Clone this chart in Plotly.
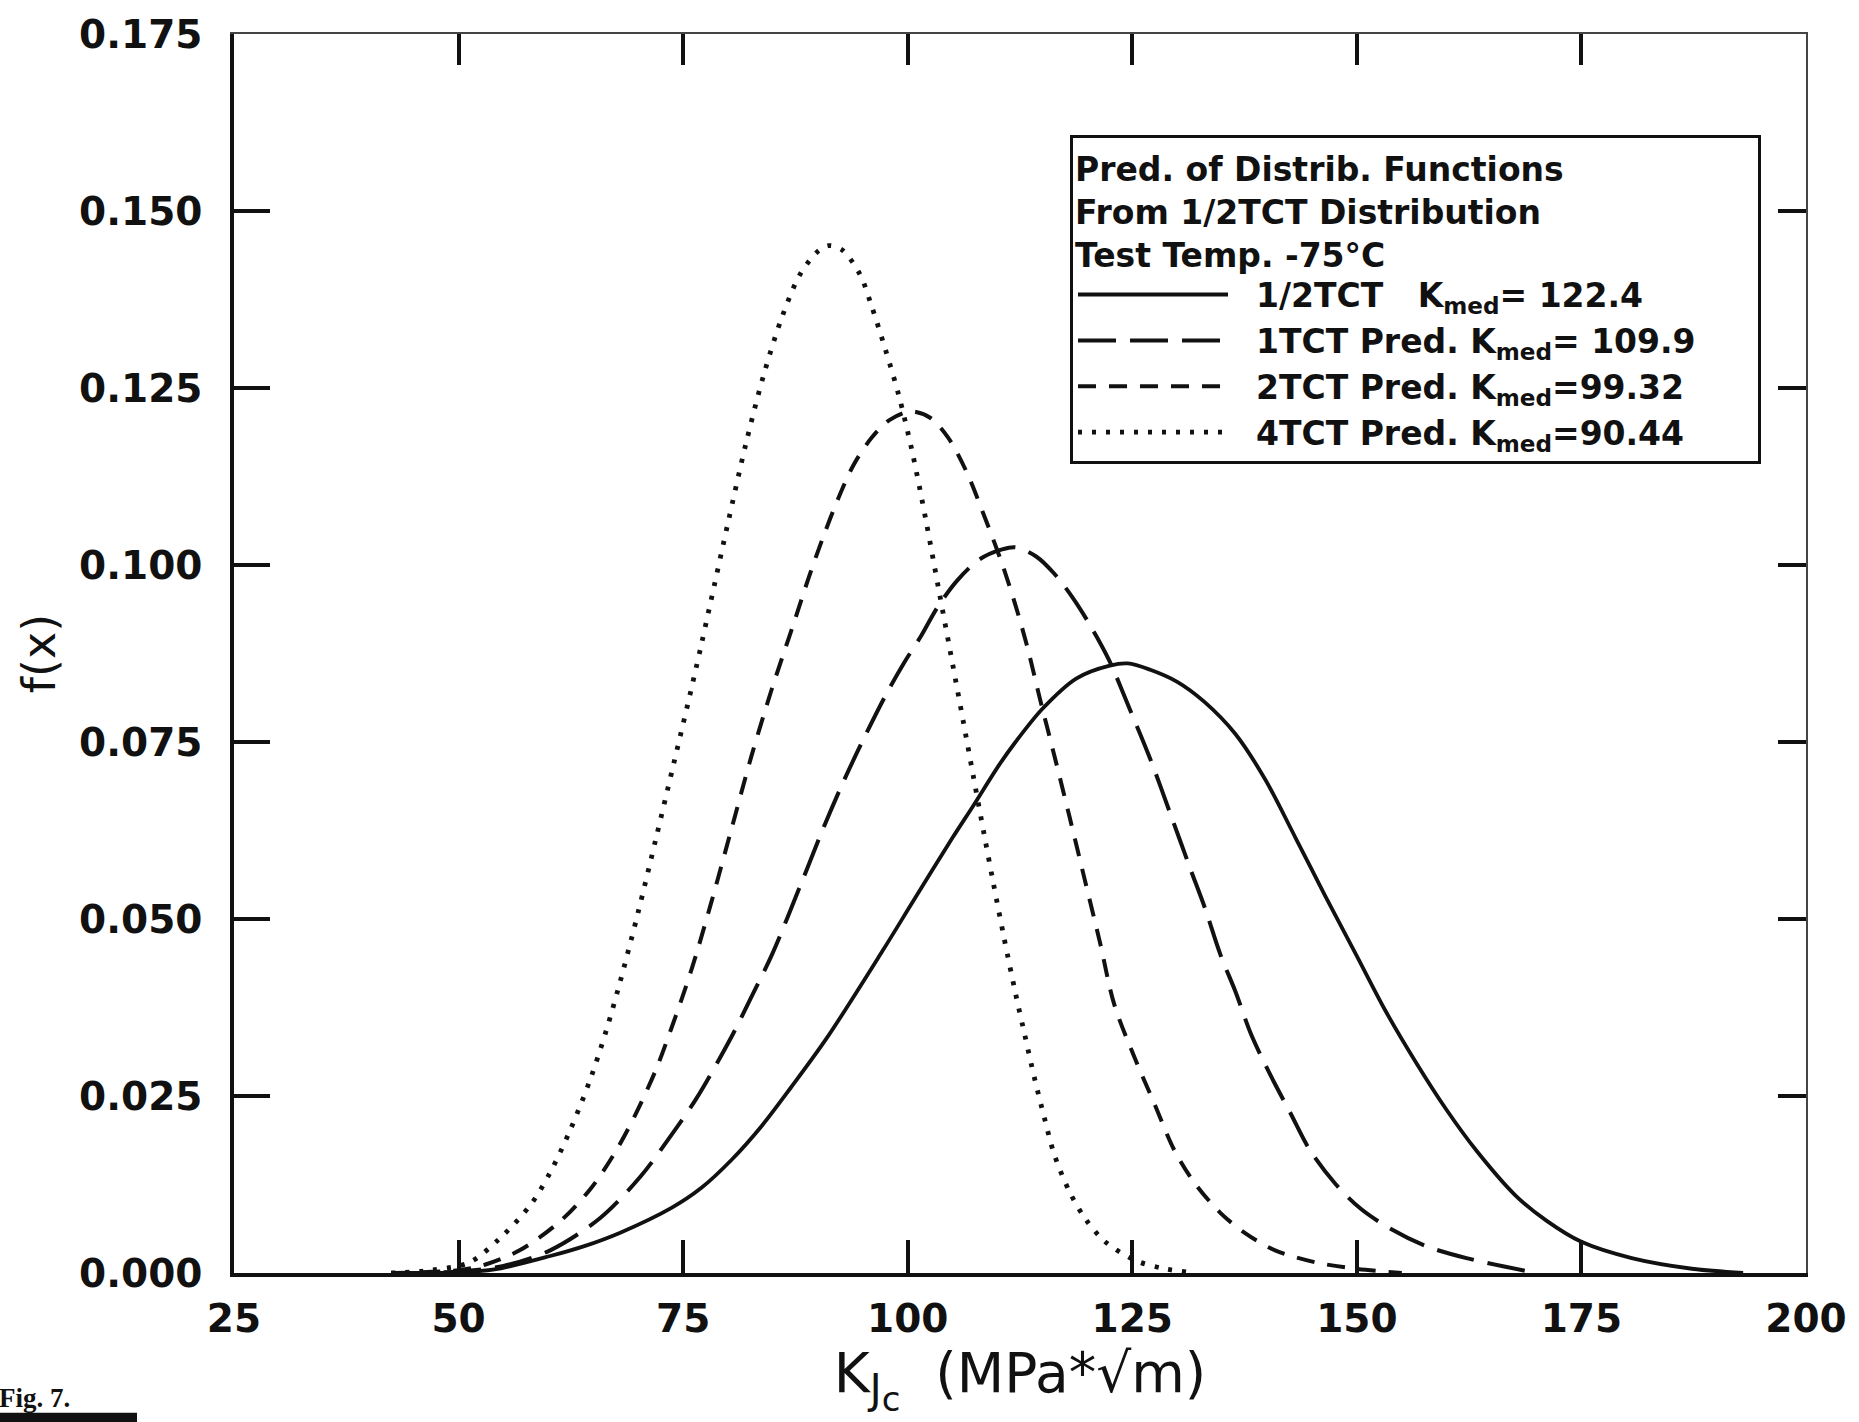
import plotly.graph_objects as go

# ---- data: Weibull density predictions of K_Jc for several specimen sizes ----
half_tct_k = [42.5, 50.0, 54.0, 60.2, 64.0, 68.0, 73.7, 77.0, 80.4, 83.7, 87.0,
              91.0, 97.2, 100.6, 105.0, 107.3, 110.2, 112.0, 115.0, 118.8,
              122.5, 124.5, 127.0, 130.0, 133.0, 136.5, 139.8, 143.2, 146.5,
              149.9, 153.2, 156.6, 159.9, 163.3, 167.7, 171.1, 175.0, 180.6,
              187.3, 193.0]
half_tct_f = [0.0, 0.0001, 0.0005, 0.0024, 0.0038, 0.0057, 0.0092, 0.0120,
              0.0160, 0.0207, 0.0262, 0.0332, 0.0455, 0.0525, 0.0615, 0.0660,
              0.0718, 0.0750, 0.0797, 0.0840, 0.0858, 0.0861, 0.0852, 0.0835,
              0.0807, 0.0761, 0.0697, 0.0614, 0.0532, 0.0450, 0.0370, 0.0297,
              0.0232, 0.0173, 0.0109, 0.0074, 0.0044, 0.0021, 0.0006, 0.0]

one_tct_k = [42.5, 50.0, 55.0, 60.2, 65.8, 70.3, 73.7, 76.5, 80.4, 82.6, 84.9,
             88.2, 90.5, 92.7, 95.0, 97.5, 99.6, 101.5, 103.3, 105.5, 108.0,
             110.5, 112.0, 114.3, 116.3, 118.3, 120.3, 122.4, 124.7, 127.0,
             129.2, 131.4, 133.1, 134.8, 136.5, 138.2, 140.4, 142.6, 144.8,
             147.6, 150.4, 153.8, 157.7, 162.2, 170.0]
one_tct_f = [0.0, 0.0002, 0.0010, 0.0032, 0.0078, 0.0137, 0.0195, 0.0247,
             0.0334, 0.0390, 0.0450, 0.0552, 0.0625, 0.0690, 0.0752, 0.0815,
             0.0862, 0.0900, 0.0940, 0.0978, 0.1008, 0.1022, 0.1025, 0.1012,
             0.0988, 0.0955, 0.0915, 0.0866, 0.0797, 0.0726, 0.0650, 0.0573,
             0.0515, 0.0450, 0.0397, 0.0338, 0.0279, 0.0226, 0.0173, 0.0126,
             0.0091, 0.0062, 0.0038, 0.0021, 0.0]

two_tct_k = [42.5, 50.0, 53.0, 56.8, 61.3, 64.7, 67.5, 69.7, 72.0, 73.7, 75.3,
             76.5, 78.1, 80.4, 82.6, 84.8, 86.0, 87.5, 89.0, 90.6, 92.3, 94.0,
             96.0, 98.0, 100.4, 102.5, 104.5, 106.5, 108.5, 110.5, 112.0,
             113.3, 114.7, 116.3, 118.0, 119.7, 121.4, 123.0, 125.3, 127.5,
             129.7, 132.0, 134.8, 137.6, 140.9, 145.4, 149.9, 155.0]
two_tct_f = [0.0, 0.0004, 0.0012, 0.0032, 0.0073, 0.0119, 0.0172, 0.0224,
             0.0288, 0.0346, 0.0404, 0.0452, 0.0522, 0.0628, 0.0730, 0.0822,
             0.0868, 0.0925, 0.0983, 0.1040, 0.1095, 0.1142, 0.1180, 0.1205,
             0.1217, 0.1208, 0.1180, 0.1133, 0.1070, 0.1002, 0.0943, 0.0885,
             0.0812, 0.0732, 0.0645, 0.0556, 0.0467, 0.0379, 0.0303, 0.0238,
             0.0173, 0.0126, 0.0085, 0.0056, 0.0032, 0.0015, 0.0006, 0.0]

four_tct_k = [42.5, 47.0, 51.2, 54.6, 58.0, 60.2, 62.4, 64.7, 66.5, 68.0, 70.0,
              72.0, 74.0, 76.0, 77.0, 78.0, 80.0, 82.0, 84.0, 86.0, 88.0, 90.0,
              91.2, 92.7, 94.7, 96.0, 97.5, 99.0, 100.5, 102.0, 103.5, 105.0,
              106.2, 107.3, 108.5, 109.5, 110.7, 112.0, 113.0, 114.1, 115.2,
              116.3, 118.0, 119.7, 121.9, 125.3, 128.6, 132.0]
four_tct_f = [0.0, 0.0004, 0.0015, 0.0049, 0.0096, 0.0142, 0.0201, 0.0275,
              0.0345, 0.0412, 0.0510, 0.0615, 0.0722, 0.0830, 0.0886, 0.0944,
              0.1060, 0.1172, 0.1270, 0.1350, 0.1410, 0.1443, 0.1451, 0.1445,
              0.1410, 0.1365, 0.1305, 0.1240, 0.1160, 0.1065, 0.0962, 0.0860,
              0.0778, 0.0702, 0.0620, 0.0553, 0.0475, 0.0395, 0.0338, 0.0276,
              0.0220, 0.0168, 0.0115, 0.0078, 0.0045, 0.0018, 0.0006, 0.0]

NB = "\u00a0"
series_names = [
    NB * 2 + "1/2TCT" + NB * 3 + "K<sub>med</sub>=" + NB + "122.4" + NB * 6,
    NB * 2 + "1TCT Pred. K<sub>med</sub>=" + NB + "109.9" + NB * 5,
    NB * 2 + "2TCT Pred. K<sub>med</sub>=99.32" + NB * 5,
    NB * 2 + "4TCT Pred. K<sub>med</sub>=90.44" + NB * 5,
]
legend_heading = ["Pred. of Distrib. Functions",
                  "From 1/2TCT Distribution",
                  "Test Temp. -75°C"]

x_ticks = [25, 50, 75, 100, 125, 150, 175, 200]
y_ticks = [0.0, 0.025, 0.05, 0.075, 0.1, 0.125, 0.15, 0.175]

# ---- page geometry (pixels) ----
W, H = 1859, 1422
ML, MR, MT, MB = 234, 53, 32, 149
PW, PH = W - ML - MR, H - MT - MB


def px_x(px):
    return (px - ML) / PW


def px_y(py):
    return (H - MB - py) / PH


INK = "#111111"
TICK_FONT = dict(family="DejaVu Sans", size=39, color=INK, weight="bold")
LEGEND_FONT = dict(family="DejaVu Sans", size=33, color=INK, weight="bold")

fig = go.Figure()

styles = [
    dict(dash="solid", width=3.8),
    dict(dash="38px,14px", width=4.0),
    dict(dash="18px,13px", width=4.0),
    dict(dash="4px,10px", width=4.8),
]
for name, ks, fs, st in zip(series_names,
                            [half_tct_k, one_tct_k, two_tct_k, four_tct_k],
                            [half_tct_f, one_tct_f, two_tct_f, four_tct_f],
                            styles):
    fig.add_trace(go.Scatter(
        x=ks, y=fs, mode="lines", name=name,
        line=dict(color=INK, shape="spline", smoothing=0.9, **st),
    ))

# invisible trace so the mirrored top/right frame axes are drawn
fig.add_trace(go.Scatter(x=[25], y=[0], xaxis="x2", yaxis="y2", mode="markers",
                         marker=dict(opacity=0), showlegend=False,
                         hoverinfo="skip"))

x_title = ("K<sub><span style='font-size:40px'>J</span>"
           "<sub><span style='font-size:34px'>c</span></sub></sub>"
           + NB * 2 + "(MPa*√m)")

fig.update_layout(
    width=W, height=H,
    margin=dict(l=ML, r=MR, t=MT, b=MB),
    paper_bgcolor="white", plot_bgcolor="white",
    showlegend=True,
    legend=dict(
        x=px_x(1070), y=px_y(133), xanchor="left", yanchor="top",
        bgcolor="white", bordercolor=INK, borderwidth=3,
        font=LEGEND_FONT,
        title=dict(text="<br>".join(legend_heading), font=LEGEND_FONT),
        itemwidth=150, tracegroupgap=0,
    ),
    xaxis=dict(
        range=[25, 200], tickvals=x_ticks, ticktext=[str(v) for v in x_ticks],
        ticks="inside", ticklen=33, tickwidth=3.5, tickcolor=INK,
        showline=True, linewidth=3.5, linecolor=INK,
        showgrid=False, zeroline=False, tickfont=TICK_FONT,
        ticklabelstandoff=8,
        title=dict(text=x_title,
                   font=dict(family="DejaVu Sans", size=55, color=INK),
                   standoff=12),
    ),
    yaxis=dict(
        range=[0, 0.175], tickvals=y_ticks,
        ticktext=[f"{v:.3f}" for v in y_ticks],
        ticks="inside", ticklen=36, tickwidth=3.5, tickcolor=INK,
        showline=True, linewidth=3.5, linecolor=INK,
        showgrid=False, zeroline=False, tickfont=TICK_FONT,
        ticklabelstandoff=20,
        title=dict(text="f(x)",
                   font=dict(family="DejaVu Sans", size=46, color=INK),
                   standoff=10),
    ),
    xaxis2=dict(
        overlaying="x", side="top", range=[25, 200], tickvals=x_ticks,
        ticks="inside", ticklen=31, tickwidth=3.5, tickcolor=INK,
        showline=True, linewidth=1.5, linecolor="#444444",
        showticklabels=False, showgrid=False, zeroline=False,
    ),
    yaxis2=dict(
        overlaying="y", side="right", range=[0, 0.175], tickvals=y_ticks,
        ticks="inside", ticklen=28, tickwidth=3.5, tickcolor=INK,
        showline=True, linewidth=1.5, linecolor="#444444",
        showticklabels=False, showgrid=False, zeroline=False,
    ),
)

# figure caption with its rule
fig.add_annotation(
    text="<b>Fig. 7.</b>", xref="paper", yref="paper",
    x=px_x(-3), y=px_y(1415), xanchor="left", yanchor="bottom",
    showarrow=False,
    font=dict(family="Liberation Serif", size=27, color=INK),
)
fig.add_shape(type="rect", xref="paper", yref="paper",
              x0=px_x(0), x1=px_x(137), y0=px_y(1413), y1=px_y(1424),
              fillcolor=INK, line=dict(width=0))

fig.write_html("out.html")
